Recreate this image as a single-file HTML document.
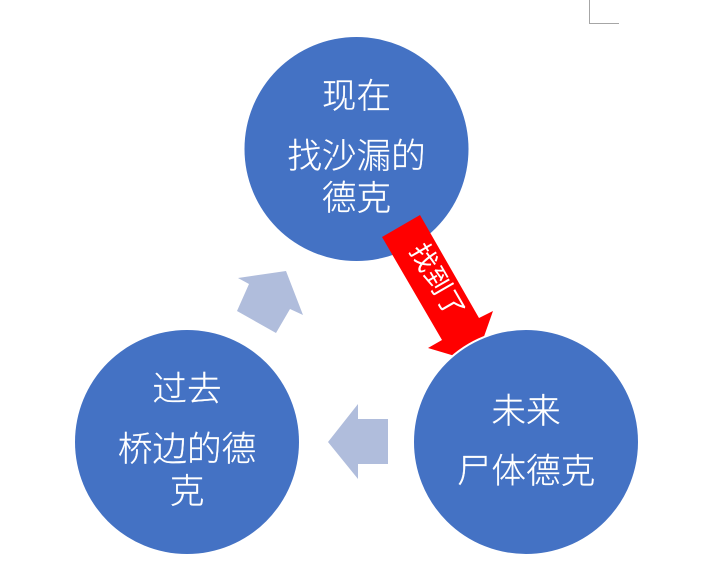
<!DOCTYPE html>
<html><head><meta charset="utf-8">
<style>
html,body{margin:0;padding:0;background:#fff;width:716px;height:578px;overflow:hidden}
svg{display:block}
text{font-family:"Liberation Sans","Noto Sans CJK SC",sans-serif;font-size:34.6px;fill:#fff;stroke:#fff;stroke-width:.25px;text-anchor:middle;font-weight:300}
</style></head><body>
<svg width="716" height="578" viewBox="0 0 716 578" xmlns="http://www.w3.org/2000/svg">
<rect width="716" height="578" fill="#fff"/>
<path d="M589.5 0V23.5H619" fill="none" stroke="#a6a6a6" stroke-width="1"/>
<circle cx="356.5" cy="149" r="112" fill="#4472c4"/>
<polygon points="420,215 382,237 442,340 428,348 475,362 493,311 479,318" fill="#ff0000"/>
<circle cx="526" cy="442" r="113" fill="#4472c4" stroke="#fff" stroke-width="2"/>
<circle cx="187" cy="442" r="112" fill="#4472c4"/>
<polygon points="328,442 358,404 358,419 388,419 388,464 358,464 358,479" fill="#b0bddc"/>
<polygon points="286,271 238,278 249,284 237,311 276,333 290,309 303,315" fill="#b0bddc"/>
<text x="356.5" y="108">现在</text>
<text x="356.5" y="168">找沙漏的</text>
<text x="356.5" y="210">德克</text>
<text x="187" y="401">过去</text>
<text x="187" y="461">桥边的德</text>
<text x="187" y="503">克</text>
<text x="526" y="423">未来</text>
<text x="526" y="483">尸体德克</text>
<text transform="translate(437,281) rotate(60)" x="0" y="9" style="font-size:27px;font-weight:400;stroke-width:0">找到了</text>
</svg>
</body></html>
